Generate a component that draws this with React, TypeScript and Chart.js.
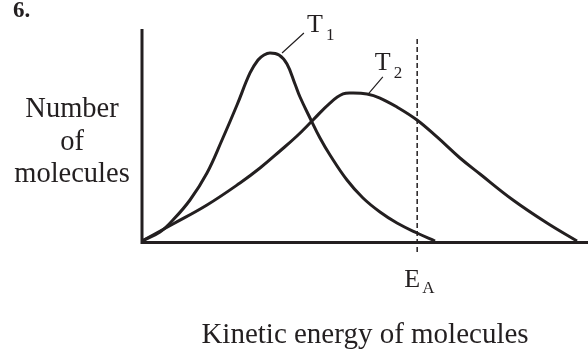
import React, { useEffect, useRef } from "react";
import { Chart, registerables } from "chart.js";

Chart.register(...registerables);

// ---- data (energy on x, number of molecules on y; arbitrary units 0..100) ----
const energyT1 = [0, 4.04, 6.95, 10.76, 14.57, 17.94, 21.3, 24.22, 26.01, 27.35, 28.7, 30.72, 32.51, 34.3, 35.43, 37.67, 39.91, 42.15, 45.96, 49.55, 53.36, 57.17, 61.66, 65.7];
const countT1 = [0, 4.25, 9.91, 19.34, 32.08, 47.64, 64.15, 79.25, 85.38, 87.74, 88.68, 87.74, 83.49, 74.06, 67.92, 58.02, 48.58, 40.57, 28.77, 20.28, 13.68, 8.49, 3.77, 0];

const energyT2 = [0, 6.95, 14.57, 21.97, 26.46, 30.94, 34.75, 38.34, 42.15, 45.07, 47.31, 50.45, 53.36, 57.17, 61.66, 66.14, 71.3, 75.78, 83.18, 90.81, 97.53];
const countT2 = [0, 8.02, 16.98, 27.36, 34.43, 42.45, 49.53, 57.08, 65.09, 69.34, 69.81, 69.34, 67.45, 63.21, 57.08, 49.06, 39.15, 31.6, 19.34, 8.49, 0];

const activationEnergy = 61.7;
const seriesNames = ["T", "T"];
const seriesSubs = ["1", "2"];
const xAxisTitle = "Kinetic energy of molecules";
const yAxisTitle = ["Number", "of", "molecules"];
const questionNumber = "6.";
const eaMain = "E";
const eaSub = "A";

const INK = "#231f20";
const SERIF = "'Liberation Serif', 'DejaVu Serif', serif";

const toPoints = (xs: number[], ys: number[]) => xs.map((x, i) => ({ x, y: ys[i] }));

export default function App() {
  const ref = useRef<HTMLCanvasElement | null>(null);

  useEffect(() => {
    const canvas = ref.current;
    if (!canvas) return;

    const decor = {
      id: "decor",
      beforeDatasetsDraw(chart: any) {
        const { ctx, scales } = chart;
        const xs = scales.x;
        const ys = scales.y;
        const xE = xs.getPixelForValue(activationEnergy);
        ctx.save();
        ctx.strokeStyle = INK;
        ctx.lineWidth = 1.5;
        ctx.setLineDash([5, 3]);
        ctx.beginPath();
        ctx.moveTo(xE, ys.getPixelForValue(95.3));
        ctx.lineTo(xE, ys.getPixelForValue(0) + 14);
        ctx.stroke();
        ctx.restore();
      },
      afterDatasetsDraw(chart: any) {
        const { ctx, scales, chartArea } = chart;
        const xs = scales.x;
        const ys = scales.y;
        const x0 = xs.getPixelForValue(0);
        const y0 = ys.getPixelForValue(0);
        ctx.save();
        // axes
        ctx.strokeStyle = INK;
        ctx.lineWidth = 3;
        ctx.lineCap = "butt";
        ctx.beginPath();
        ctx.moveTo(x0, chartArea.top);
        ctx.lineTo(x0, y0 + 1.5);
        ctx.lineTo(chartArea.right, y0 + 1.5);
        ctx.stroke();

        // leader lines
        ctx.lineWidth = 1.2;
        ctx.beginPath();
        ctx.moveTo(xs.getPixelForValue(31.4), ys.getPixelForValue(88.7));
        ctx.lineTo(xs.getPixelForValue(36.3), ys.getPixelForValue(98.1));
        ctx.moveTo(xs.getPixelForValue(50.7), ys.getPixelForValue(69.3));
        ctx.lineTo(xs.getPixelForValue(54.0), ys.getPixelForValue(77.4));
        ctx.stroke();

        ctx.fillStyle = INK;
        ctx.textBaseline = "alphabetic";

        // series labels
        const lab = (i: number, xv: number, yv: number) => {
          const px = xs.getPixelForValue(xv);
          const py = ys.getPixelForValue(yv);
          ctx.font = `26px ${SERIF}`;
          ctx.textAlign = "left";
          ctx.fillText(seriesNames[i], px, py);
          const w = ctx.measureText(seriesNames[i]).width;
          ctx.font = `17px ${SERIF}`;
          ctx.fillText(seriesSubs[i], px + w + 3, py + 8);
        };
        lab(0, 37.0, 98.6);
        lab(1, 52.2, 80.7);

        // E_A
        const xE = xs.getPixelForValue(activationEnergy);
        ctx.font = `26px ${SERIF}`;
        ctx.textAlign = "right";
        ctx.fillText(eaMain, xE + 3, y0 + 46);
        ctx.font = `17px ${SERIF}`;
        ctx.textAlign = "left";
        ctx.fillText(eaSub, xE + 5, y0 + 52);

        // axis titles
        ctx.font = `29px ${SERIF}`;
        ctx.textAlign = "center";
        ctx.fillText(xAxisTitle, (chartArea.left + chartArea.right) / 2, y0 + 102);
        ctx.font = `28.5px ${SERIF}`;
        const yx = chartArea.left - 70;
        const baselines = [88, 121, 153];
        yAxisTitle.forEach((t, i) => ctx.fillText(t, yx, chartArea.top + baselines[i]));

        // question number
        ctx.font = `bold 23px ${SERIF}`;
        ctx.textAlign = "left";
        ctx.fillText(questionNumber, 13, 17);
        ctx.restore();
      },
    };

    const chart = new Chart(canvas, {
      type: "line",
      data: {
        datasets: [
          {
            label: "T1",
            data: toPoints(energyT1, countT1),
            borderColor: INK,
            borderWidth: 3,
            pointRadius: 0,
            tension: 0.4,
            fill: false,
            clip: false as any,
          },
          {
            label: "T2",
            data: toPoints(energyT2, countT2),
            borderColor: INK,
            borderWidth: 3,
            pointRadius: 0,
            tension: 0.4,
            fill: false,
            clip: false as any,
          },
        ],
      },
      options: {
        responsive: false,
        animation: false,
        devicePixelRatio: 1,
        layout: { padding: { left: 142, right: 0, top: 29, bottom: 110 } },
        plugins: { legend: { display: false }, tooltip: { enabled: false } },
        scales: {
          x: { type: "linear", min: 0, max: 100, display: false },
          y: { type: "linear", min: 0, max: 100, display: false },
        },
      },
      plugins: [decor],
    } as any);

    return () => chart.destroy();
  }, []);

  return (
    <div style={{ position: "fixed", left: 0, top: 0, width: 588, height: 351, background: "#fff" }}>
      <canvas ref={ref} width={588} height={351} style={{ display: "block", width: 588, height: 351 }} />
    </div>
  );
}
